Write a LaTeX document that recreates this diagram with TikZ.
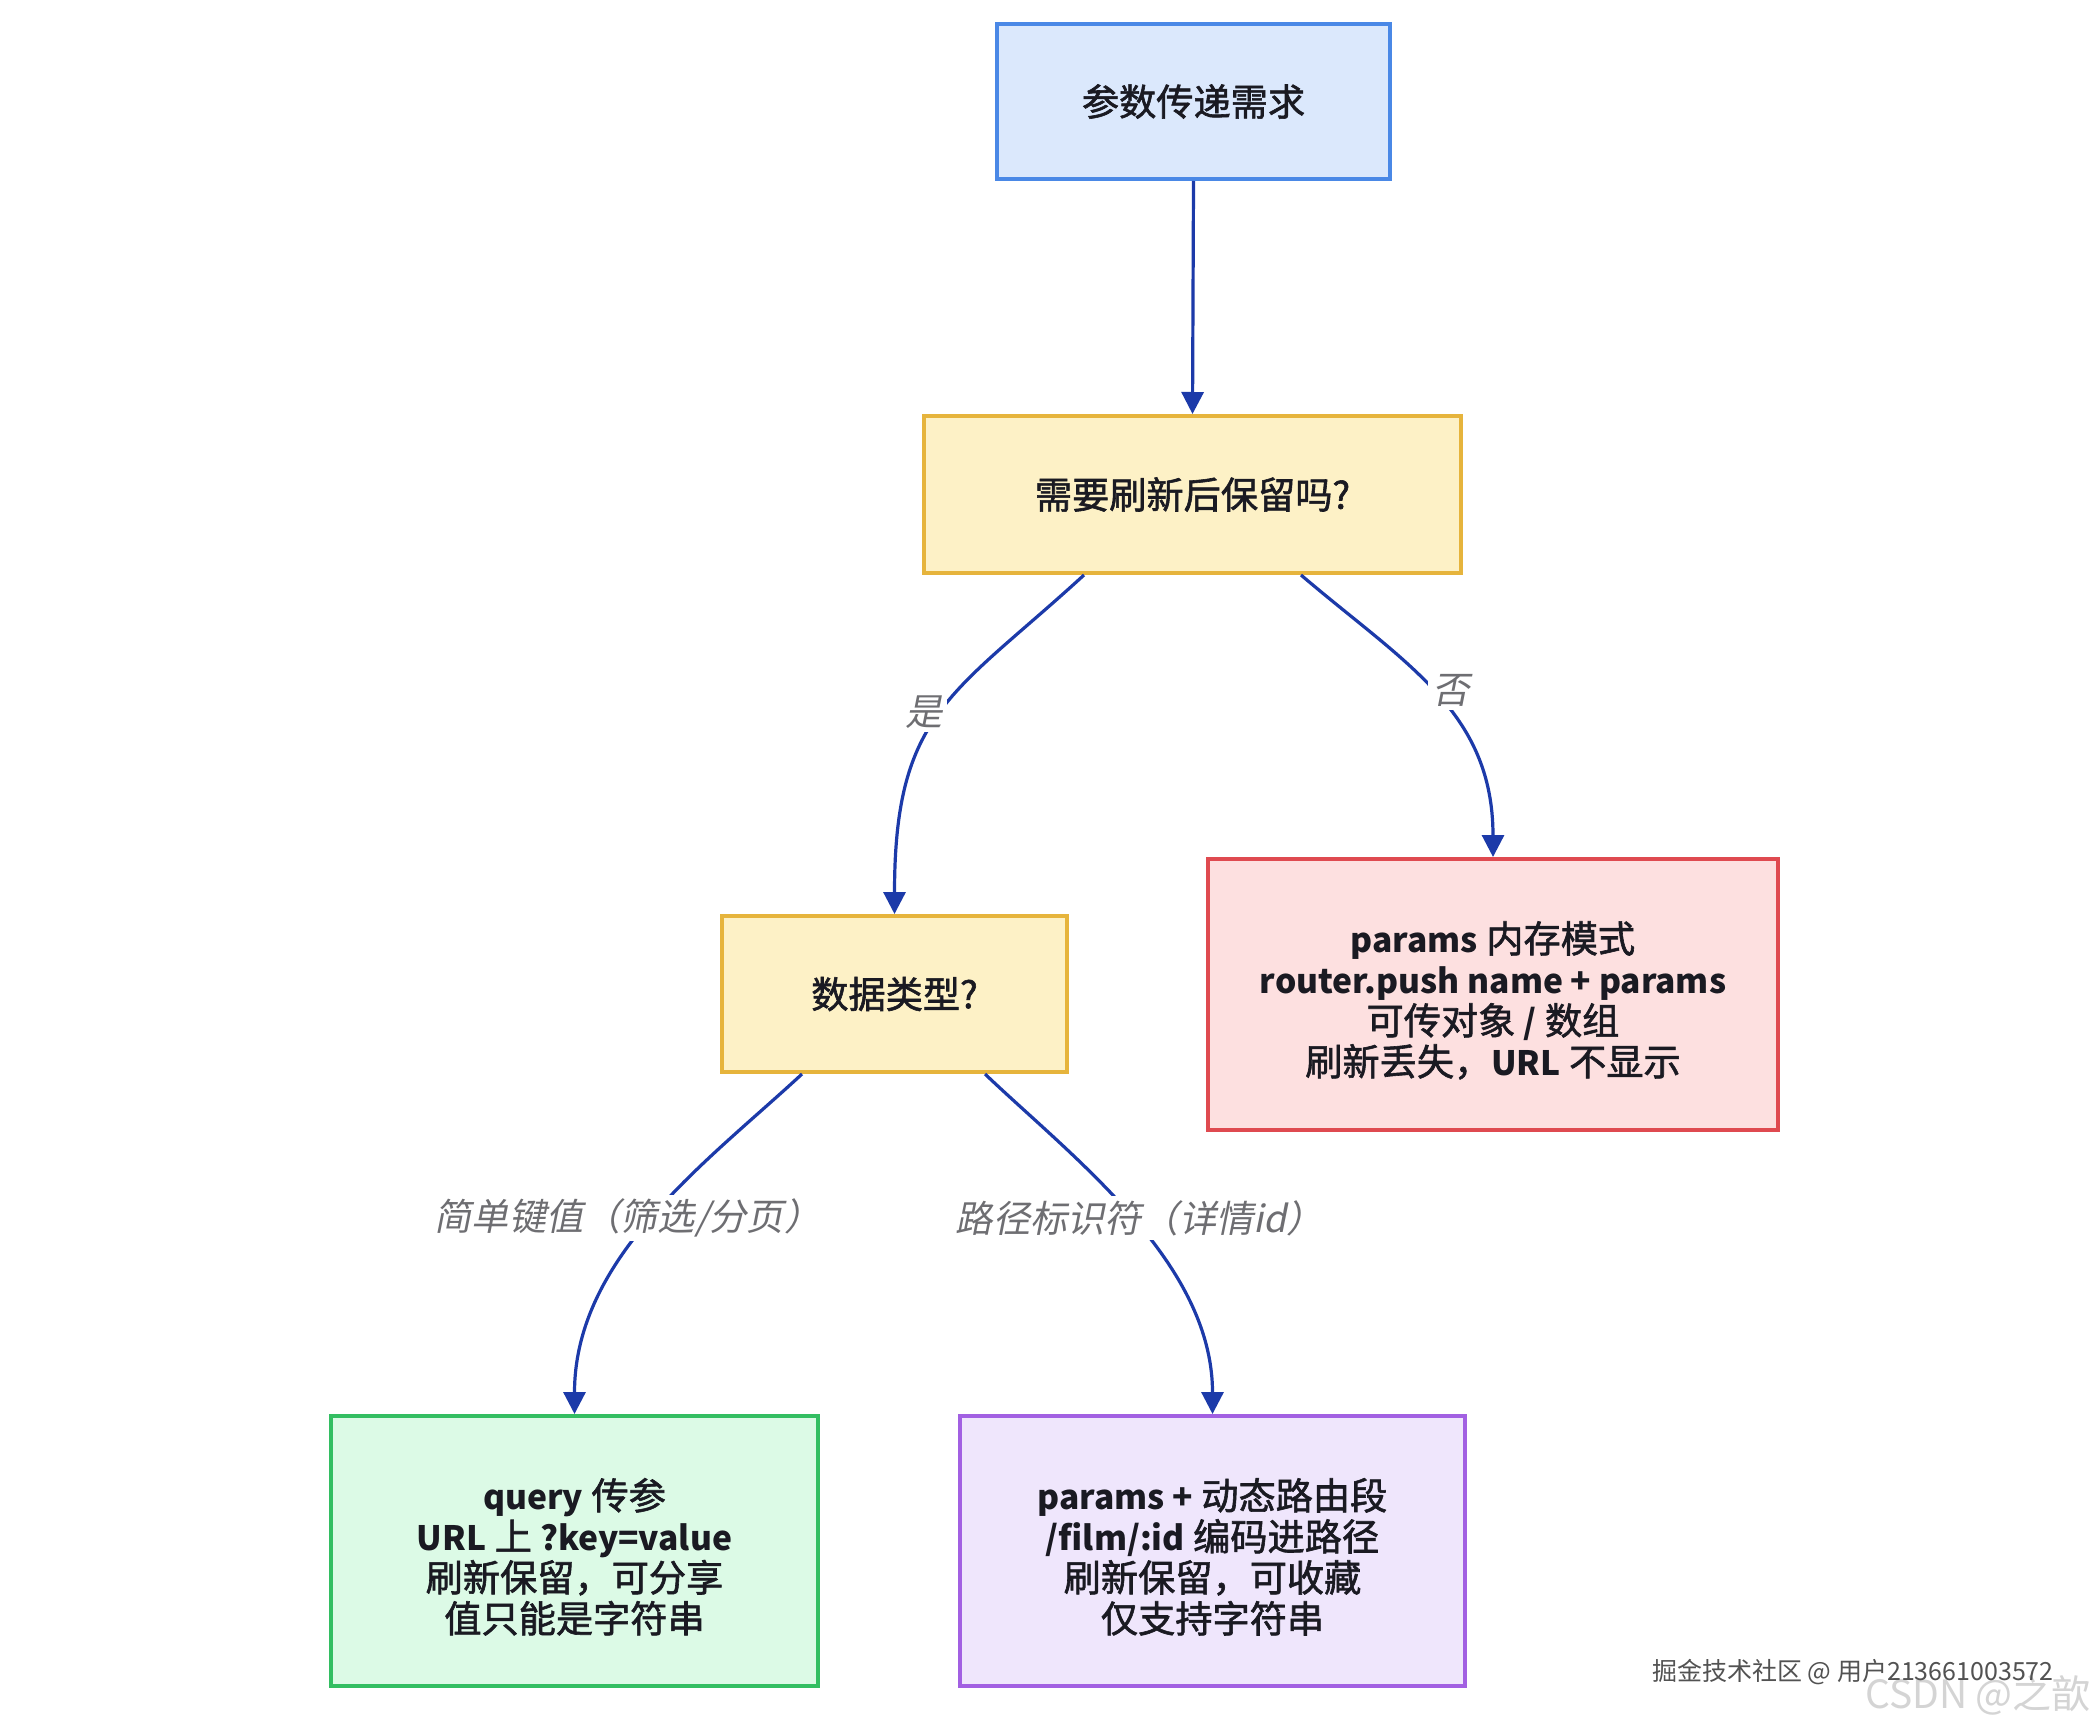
\documentclass[tikz,border=0pt]{standalone}
\usepackage{fontspec}
\setmainfont{Noto Sans CJK SC}[UprightFeatures={FakeBold=1.6}]
\newfontfamily\plainfont{Noto Sans CJK SC}
\newfontfamily\lblfont{Noto Sans CJK SC}[FakeSlant=0.2]
\usetikzlibrary{arrows.meta}
\definecolor{arrowc}{HTML}{1C3AA9}
\definecolor{txtc}{HTML}{1A1A22}
\definecolor{lblc}{HTML}{6E6E72}
\definecolor{blueF}{HTML}{DBE8FC}\definecolor{blueD}{HTML}{4A88E6}
\definecolor{yelF}{HTML}{FDF1C6}\definecolor{yelD}{HTML}{E6B43C}
\definecolor{redF}{HTML}{FDE0E0}\definecolor{redD}{HTML}{DF4A50}
\definecolor{grnF}{HTML}{DCFAE6}\definecolor{grnD}{HTML}{33BE62}
\definecolor{purF}{HTML}{EFE6FC}\definecolor{purD}{HTML}{A260E2}
\newcommand\lb[1]{{\fontsize{16.8}{20.5}\selectfont\bfseries #1}}
\newcommand\topstrut{\rule{0pt}{21.5pt}}
\begin{document}
\begin{tikzpicture}[x=0.5pt,y=-0.5pt,
  box/.style={draw, line width=2pt, align=center, text=txtc, inner sep=0pt,
    font=\fontsize{18.6}{20.5}\selectfont},
  arr/.style={draw=arrowc, line width=1.6pt, -{Triangle[length=11pt,width=11pt]}, arrowc},
  lbl/.style={fill=white, text=lblc, inner sep=2pt, font=\lblfont\fontsize{18.6}{20.5}\selectfont}]
\path[use as bounding box, fill=white] (0,0) rectangle (2096,1728);

\node[box, fill=blueF, draw=blueD, minimum width=196.5pt, minimum height=77.5pt] (b1) at (1193.5,101.5) {参数传递需求};
\node[box, fill=yelF, draw=yelD, minimum width=268.5pt, minimum height=78.5pt] (b2) at (1192.5,494.5) {需要刷新后保留吗?};
\node[box, fill=yelF, draw=yelD, minimum width=172.5pt, minimum height=78pt] (b3) at (894.5,994) {数据类型?};
\node[box, fill=redF, draw=redD, minimum width=285pt, minimum height=135.5pt] (red) at (1493,994.5)
  {\topstrut\lb{params} 内存模式\\ \lb{router.push name + params}\\ 可传对象 \lb{/} 数组\\ 刷新丢失，\lb{URL} 不显示};
\node[box, fill=grnF, draw=grnD, minimum width=243.5pt, minimum height=135pt] (grn) at (574.5,1551)
  {\topstrut\lb{query} 传参\\ \lb{URL} 上 \lb{?key=value}\\ 刷新保留，可分享\\ 值只能是字符串};
\node[box, fill=purF, draw=purD, minimum width=252.5pt, minimum height=135pt] (pur) at (1212.5,1551)
  {\topstrut\lb{params +} 动态路由段\\ \lb{/film/:id} 编码进路径\\ 刷新保留，可收藏\\ 仅支持字符串};

\draw[arr] (b1.south) -- (b2.north);
\draw[arr] ([xshift=-54.25pt]b2.south) .. controls +(-131,120) and +(0,-202) .. (b3.north);
\draw[arr] ([xshift=54.25pt]b2.south) .. controls +(103,88) and +(0,-146) .. (red.north);
\draw[arr] ([xshift=-46.25pt]b3.south) .. controls +(-95,88) and +(0,-157) .. (grn.north);
\draw[arr] ([xshift=45.25pt]b3.south) .. controls +(87,83) and +(0,-152) .. (pur.north);

\node[lbl] (l1) at (924,712) {是};
\node[lbl] (l2) at (1451,690) {否};
\node[lbl] (l3) at (628,1218) {简单键值（筛选/分页）};
\node[lbl] (l4) at (1140,1218) {路径标识符（详情id）};

\node[text=black!17, font=\plainfont\fontsize{19.5}{20}\selectfont, inner sep=0pt] (wm2) at (1978,1695) {CSDN @之歆};
\node[text=black!68, font=\plainfont\fontsize{12.5}{14}\selectfont, inner sep=0pt] (wm1) at (1853,1672) {掘金技术社区 @ 用户213661003572};
\end{tikzpicture}
\end{document}
